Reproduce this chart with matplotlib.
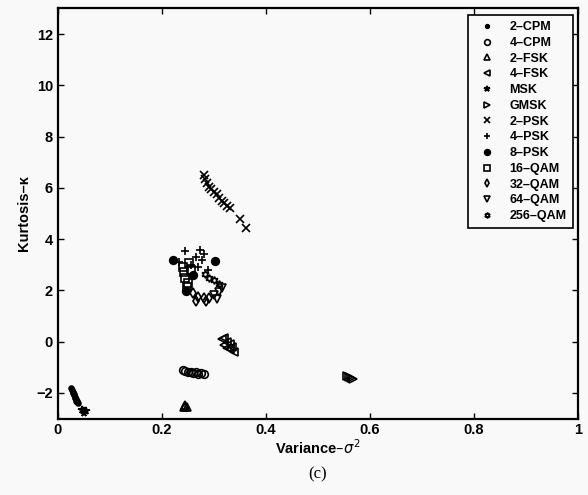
import matplotlib.pyplot as plt

# feature-space scatter: variance vs kurtosis for each modulation type
cpm2_x = [0.026, 0.027, 0.028, 0.029, 0.030, 0.031, 0.032, 0.033, 0.034, 0.035, 0.036, 0.037, 0.038]
cpm2_y = [-1.82, -1.88, -1.95, -2.00, -2.05, -2.10, -2.15, -2.20, -2.25, -2.30, -2.33, -2.36, -2.40]

cpm4_x = [0.240, 0.245, 0.250, 0.255, 0.260, 0.265, 0.270, 0.275, 0.280]
cpm4_y = [-1.10, -1.15, -1.20, -1.18, -1.22, -1.20, -1.25, -1.22, -1.28]

fsk2_x = [0.242, 0.245, 0.248, 0.245]
fsk2_y = [-2.55, -2.48, -2.55, -2.52]

fsk4_x = [0.315, 0.320, 0.325, 0.330, 0.335, 0.320, 0.330, 0.338, 0.325]
fsk4_y = [0.10, 0.15, 0.00, -0.10, -0.20, -0.15, -0.30, -0.40, -0.25]

msk_x = [0.047, 0.050, 0.053, 0.050]
msk_y = [-2.68, -2.72, -2.70, -2.78]

gmsk_x = [0.556, 0.560, 0.564, 0.568]
gmsk_y = [-1.35, -1.38, -1.42, -1.45]

psk2_x = [0.280, 0.283, 0.287, 0.290, 0.295, 0.300, 0.305, 0.310, 0.315, 0.320, 0.325, 0.330, 0.350, 0.362]
psk2_y = [6.50, 6.35, 6.20, 6.05, 5.95, 5.85, 5.75, 5.60, 5.50, 5.40, 5.30, 5.20, 4.80, 4.45]

psk4_x = [0.244, 0.273, 0.289, 0.265, 0.280, 0.255, 0.270, 0.232, 0.276]
psk4_y = [3.52, 3.59, 2.81, 3.30, 3.40, 3.00, 2.90, 3.10, 3.20]

psk8_x = [0.222, 0.302, 0.247, 0.260]
psk8_y = [3.20, 3.13, 1.96, 2.60]

qam16_x = [0.240, 0.243, 0.245, 0.250, 0.255, 0.248, 0.252]
qam16_y = [2.90, 2.70, 2.50, 2.30, 2.80, 2.15, 3.05]

qam32_x = [0.260, 0.270, 0.280, 0.290, 0.265, 0.285]
qam32_y = [1.90, 1.75, 1.70, 1.70, 1.60, 1.58]

qam64_x = [0.300, 0.310, 0.315, 0.305]
qam64_y = [1.80, 1.95, 2.10, 1.65]

qam256_x = [0.310, 0.300, 0.290, 0.282]
qam256_y = [2.25, 2.40, 2.50, 2.62]

series = [
    ('2\u2013CPM', cpm2_x, cpm2_y, '.', True),
    ('4\u2013CPM', cpm4_x, cpm4_y, 'o', False),
    ('2\u2013FSK', fsk2_x, fsk2_y, '^', False),
    ('4\u2013FSK', fsk4_x, fsk4_y, '<', False),
    ('MSK', msk_x, msk_y, '*', True),
    ('GMSK', gmsk_x, gmsk_y, '>', False),
    ('2\u2013PSK', psk2_x, psk2_y, 'x', True),
    ('4\u2013PSK', psk4_x, psk4_y, '+', True),
    ('8\u2013PSK', psk8_x, psk8_y, 'o', True),
    ('16\u2013QAM', qam16_x, qam16_y, 's', False),
    ('32\u2013QAM', qam32_x, qam32_y, 'd', False),
    ('64\u2013QAM', qam64_x, qam64_y, 'v', False),
    ('256\u2013QAM', qam256_x, qam256_y, (6, 1, 0), False),
]

plt.rcParams['font.family'] = 'Liberation Sans'
bg = '#f9f9f9'
fig = plt.figure(figsize=(5.88, 4.95), dpi=100, facecolor=bg)
ax = fig.add_axes([0.0986, 0.1545, 0.8844, 0.8285], facecolor=bg)

for name, xs, ys, mk, filled in series:
    ms = 7 if mk == '.' else 5.5
    ax.plot(xs, ys, linestyle='none', marker=mk, color='black',
            markerfacecolor='black' if filled else 'none',
            markersize=ms, markeredgewidth=1.2, label=name)

ax.set_xlim(0, 1)
ax.set_ylim(-3, 13)
ax.set_xticks([0, 0.2, 0.4, 0.6, 0.8, 1])
ax.set_xticklabels(['0', '0.2', '0.4', '0.6', '0.8', '1'])
ax.set_yticks(range(-2, 13, 2))
ax.tick_params(direction='in', length=4, width=1, top=True, right=True,
               labelsize=10.5)
for lab in ax.get_xticklabels() + ax.get_yticklabels():
    lab.set_fontweight('bold')
for s in ax.spines.values():
    s.set_linewidth(1.6)

ax.set_xlabel('Variance\u2013$\\sigma^2$', fontsize=10.5, fontweight='bold', labelpad=1)
ax.set_ylabel('Kurtosis\u2013\u03ba', fontsize=10.5, fontweight='bold', labelpad=4)

leg = ax.legend(loc='upper right', bbox_to_anchor=(0.99, 0.984), borderaxespad=0,
                fancybox=False, framealpha=1, edgecolor='black',
                prop={'weight': 'bold', 'size': 9},
                handlelength=2.0, handletextpad=0.8, labelspacing=0.3,
                borderpad=0.5, markerscale=0.75)
leg.get_frame().set_linewidth(1.2)
leg.get_frame().set_facecolor(bg)

fig.text(0.54, 0.042, '(c)', ha='center', va='center', fontsize=12,
         family='Liberation Serif')

fig.savefig('out.png', dpi=100, facecolor=bg)
